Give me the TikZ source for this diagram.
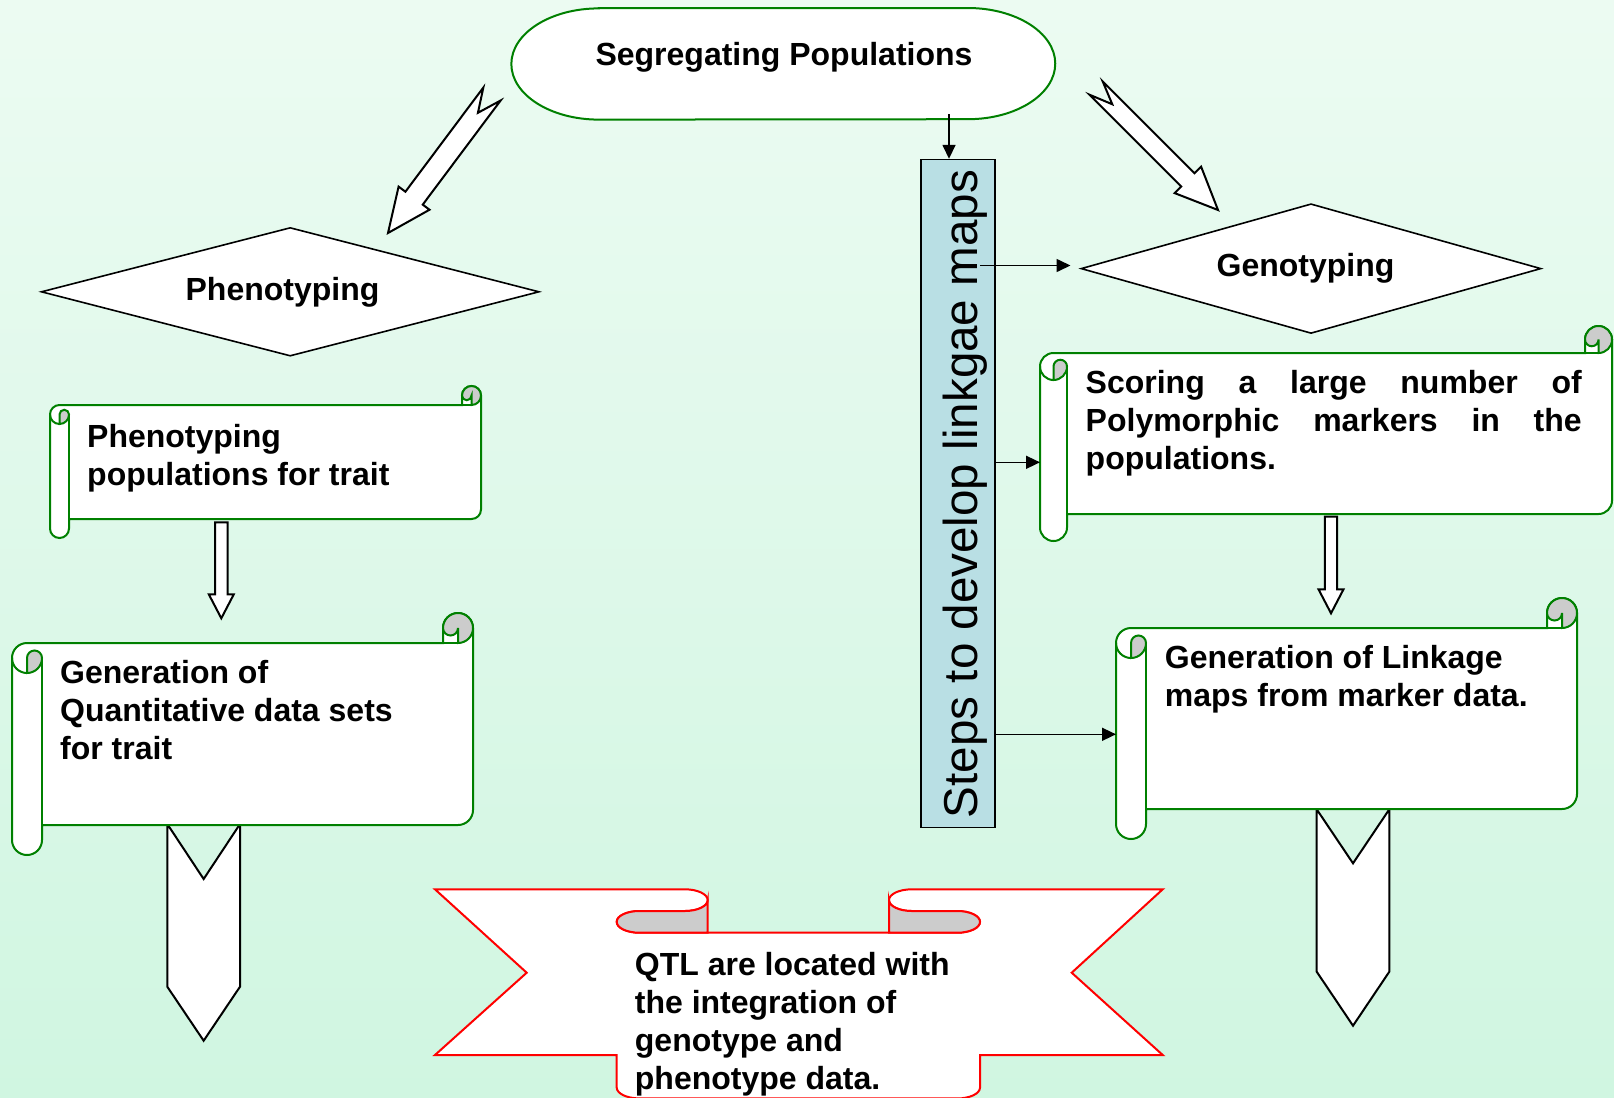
\documentclass[tikz,border=0pt]{standalone}
\usepackage{fontspec}
\setmainfont{Liberation Sans}
\usetikzlibrary{calc,arrows.meta,shapes.geometric}
\definecolor{bgtop}{RGB}{236,251,242}
\definecolor{bgbot}{RGB}{208,246,225}
\definecolor{sgreen}{RGB}{0,128,0}
\definecolor{curlgray}{RGB}{204,204,204}
\definecolor{boxblue}{RGB}{185,223,228}
\definecolor{rred}{RGB}{255,0,0}

% horizontal scroll: left, top, right, bottom, roll size
\newcommand{\hscroll}[5]{%
 \pgfmathsetmacro\scL{#1}%
 \pgfmathsetmacro\scT{#2}%
 \pgfmathsetmacro\scR{#3}%
 \pgfmathsetmacro\scB{#4}%
 \pgfmathsetmacro\scC{#5}%
 \pgfmathsetmacro\scH{#5/2}%
 \pgfmathsetmacro\scQ{#5/4}%
 \filldraw[scrollline, fill=white] ({\scL},{\scT+1.5*\scC}) arc[start angle=180,end angle=270,radius=\scH]
   -- ({\scR-\scC},{\scT+\scC}) -- ({\scR-\scC},{\scT+\scH})
   arc[start angle=180,end angle=360,radius=\scH]
   -- ({\scR},{\scB-1.5*\scC}) arc[start angle=0,end angle=90,radius=\scH]
   -- ({\scL+\scC},{\scB-\scC}) -- ({\scL+\scC},{\scB-\scH})
   arc[start angle=0,end angle=180,radius=\scH] -- cycle;
 \filldraw[scrollline, fill=curlgray] ({\scR-\scH},{\scT+\scC}) arc[start angle=90,end angle=-180,radius=\scH]
   arc[start angle=180,end angle=0,radius=\scQ] -- cycle;
 \filldraw[scrollline, fill=curlgray] ({\scL+\scH},{\scT+2*\scC}) arc[start angle=90,end angle=0,radius=\scH]
   arc[start angle=0,end angle=-180,radius=\scQ] -- cycle;
 \draw[scrollline] ({\scR-\scC},{\scT+\scC}) -- ({\scR-\scH},{\scT+\scC});
 \draw[scrollline] ({\scL+\scH},{\scT+2*\scC}) arc[start angle=90,end angle=180,radius=\scH];
 \draw[scrollline] ({\scL+\scC},{\scT+1.5*\scC}) -- ({\scL+\scC},{\scB-\scC});
}

% block arrow: tail, tip, shaft half width, head half width, head length, notch depth
\newcommand{\blockarrow}[6]{%
 \coordinate (ba-T) at (#1);
 \coordinate (ba-P) at (#2);
 \coordinate (ba-S) at ($(ba-P)!#5!(ba-T)$);
 \filldraw[blk] ($(ba-T)!#3!90:(ba-P)$) -- ($(ba-T)!#6!(ba-P)$) -- ($(ba-T)!#3!-90:(ba-P)$)
   -- ($(ba-S)!#3!90:(ba-T)$) -- ($(ba-S)!#4!90:(ba-T)$) -- (ba-P)
   -- ($(ba-S)!#4!-90:(ba-T)$) -- ($(ba-S)!#3!-90:(ba-T)$) -- cycle;
}

% chevron: x1, x2, top, notch, side bottom, tip
\newcommand{\chevron}[6]{%
 \pgfmathsetmacro\chM{(#1+#2)/2}%
 \filldraw[blk] (#1,#3) -- (\chM,#4) -- (#2,#3) -- (#2,#5) -- (\chM,#6) -- (#1,#5) -- cycle;
}

\begin{document}
\begin{tikzpicture}[x=1bp,y=-1bp,
  scrollline/.style={draw=sgreen, line width=2bp},
  blk/.style={draw=black, fill=white, line width=2bp, line join=miter},
  conn/.style={-{Triangle[length=14bp,width=13bp]}, line width=1.6bp},
  txt/.style={font=\fontsize{32bp}{38.3bp}\selectfont\bfseries, inner sep=0pt},
  ribbonline/.style={draw=rred, line width=2bp}
  ]
\useasboundingbox (0,0) rectangle (1614,1097);
\clip (0,0) rectangle (1614,1097);
\shade[top color=bgtop, bottom color=bgbot] (0,0) rectangle (1614,1097);

% chevrons below scrolls
\chevron{167.3}{240}{824}{879}{986.7}{1040.7}
\chevron{1316.7}{1389.3}{809.3}{863.3}{971.7}{1025.7}

% block arrows
\blockarrow{492,94}{388,233}{10.8bp}{19.3bp}{43.5bp}{23.5bp}
\blockarrow{1096,88}{1218,210}{9.4bp}{18.7bp}{42.6bp}{23bp}
\blockarrow{221.3,522.3}{221.3,618.3}{6.3bp}{12.5bp}{24bp}{0bp}
\blockarrow{1331,516.7}{1331,613.3}{6.2bp}{12.5bp}{24bp}{0bp}

% scrolls
\hscroll{50}{386}{481}{538}{19}
\hscroll{12}{613}{473}{855}{30}
\hscroll{1040}{326}{1612}{541}{27}
\hscroll{1116}{598}{1577}{839}{30}

% ribbon
\filldraw[ribbonline, fill=white] (435,889.3) -- (685,889.3)
  arc[start angle=270,end angle=450,x radius=22.7,y radius=10.85] -- (639.4,911)
  arc[start angle=270,end angle=90,x radius=22.7,y radius=10.85] -- (957.3,932.7)
  arc[start angle=90,end angle=-90,x radius=22.7,y radius=10.85] -- (911.7,911)
  arc[start angle=90,end angle=270,x radius=22.7,y radius=10.85] -- (1162.7,889.3)
  -- (1071.7,972.7) -- (1162.7,1055) -- (980,1055) -- (980,1087.6)
  arc[start angle=0,end angle=90,x radius=22.7,y radius=10.85] -- (639.4,1098.4)
  arc[start angle=90,end angle=180,x radius=22.7,y radius=10.85] -- (616.7,1055)
  -- (435,1055) -- (526.7,972.7) -- cycle;
\filldraw[ribbonline, fill=curlgray] (707.7,900.15)
  arc[start angle=0,end angle=90,x radius=22.7,y radius=10.85] -- (639.4,911)
  arc[start angle=270,end angle=90,x radius=22.7,y radius=10.85] -- (707.7,932.7) -- cycle;
\filldraw[ribbonline, fill=curlgray] (889,900.15)
  arc[start angle=180,end angle=90,x radius=22.7,y radius=10.85] -- (957.3,911)
  arc[start angle=270,end angle=450,x radius=22.7,y radius=10.85] -- (889,932.7) -- cycle;

% terminator (elliptical ends)
\node[minimum width=543.5bp, minimum height=111.2bp, inner sep=0pt] (seg) at (783.3,63.8) {};
\filldraw[draw=sgreen, fill=white, line width=2bp]
  ($(seg.north west)+(87.4,0)$) -- ($(seg.north east)+(-87.4,0)$)
  arc[start angle=270,end angle=450,x radius=87.4,y radius=55.6]
  -- ($(seg.south west)+(87.4,0)$)
  arc[start angle=90,end angle=270,x radius=87.4,y radius=55.6] -- cycle;
\node[txt, anchor=base] (segt) at (784,65) {Segregating Populations};

% diamonds
\node[diamond, draw, fill=white, line width=1.6bp, minimum width=498bp,
      minimum height=128.6bp, inner sep=0pt] (pheno) at (290.2,291.8) {};
\node[txt, anchor=base] (phenot) at (282.5,300) {Phenotyping};
\node[diamond, draw, fill=white, line width=1.6bp, minimum width=460bp,
      minimum height=129.7bp, inner sep=0pt] (geno) at (1311,268.6) {};
\node[txt, anchor=base] (genot) at (1305.5,276.5) {Genotyping};

% vertical box
\node[draw, fill=boxblue, line width=1.6bp, minimum width=74bp, minimum height=668bp,
      inner sep=0pt] (box) at (958.2,493.6) {};
\node[font=\fontsize{47.6bp}{50bp}\selectfont, rotate=90, anchor=base west, inner sep=0pt]
      (boxt) at (977.5,818.3) {Steps to develop linkgae maps};

% connectors
\coordinate (c1) at (949,114);
\draw[conn] (c1) -- (c1 |- box.north);
\coordinate (c2) at (980,265.5);
\coordinate (c2e) at (1070.5,265.5);
\draw[conn] (c2) -- (c2e);
\coordinate (sc3w) at (1040,462.3);
\draw[conn] (box.east |- sc3w) -- (sc3w);
\coordinate (sc4w) at (1116,734.3);
\draw[conn] (box.east |- sc4w) -- (sc4w);

% scroll texts
\node[txt, anchor=base west] (t1) at (87,447.3)
  {\parbox[t]{390bp}{Phenotyping\\populations for trait}};
\node[txt, anchor=base west] (t2) at (60,683.3)
  {\parbox[t]{400bp}{Generation of\\Quantitative data sets\\for trait}};
\node[txt, anchor=base west] (t3) at (1085.5,393.3)
  {\parbox[t]{496bp}{\makebox[496bp][s]{Scoring a large number of}\\\makebox[496bp][s]{Polymorphic markers in the}\\populations.}};
\node[txt, anchor=base west] (t4) at (1164.7,668.3)
  {\parbox[t]{400bp}{Generation of Linkage\\maps from marker data.}};
\node[txt, anchor=base west] (t5) at (634.7,975)
  {\parbox[t]{340bp}{QTL are located with\\the integration of\\genotype and\\phenotype data.}};
\end{tikzpicture}
\end{document}
